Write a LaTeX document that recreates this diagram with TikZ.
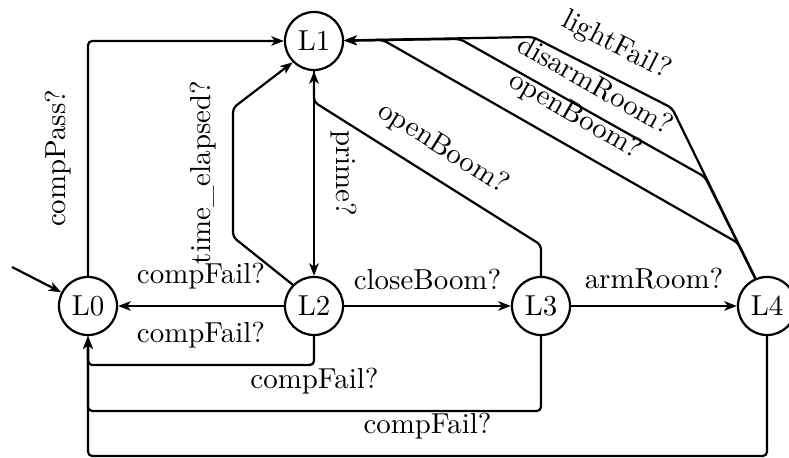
\documentclass[tikz,border=0pt]{standalone}
\usetikzlibrary{arrows.meta}
\begin{document}
\begin{tikzpicture}[x=0.36pt, y=-0.36pt,
  every node/.style={font=\fontsize{10.4pt}{12.5pt}\selectfont},
  loc/.style={circle, draw, line width=0.8pt, minimum size=20.9pt, inner sep=0pt},
  trans/.style={line width=0.8pt, -{Stealth[length=4.5pt,width=3.4pt,inset=1.2pt]}, rounded corners=1.5pt},
  lab/.style={inner sep=5.6pt}
]
\useasboundingbox (0,0) rectangle (789,458);

% locations
\node[loc] (L0) at (88,306) {L0};
\node[loc] (L1) at (314,41) {L1};
\node[loc] (L2) at (314,306) {L2};
\node[loc] (L3) at (541,306) {L3};
\node[loc] (L4) at (767,306) {L4};

% bend points
\coordinate (init) at (12,267);
\coordinate (te1) at (233,237);
\coordinate (te2) at (233,108);
\coordinate (ob1) at (541,245);
\coordinate (ob2) at (314,102);
\coordinate (lf1) at (672,108);
\coordinate (lf2) at (533,37);
\coordinate (dr1) at (705,177);
\coordinate (dr2) at (460,39);
\coordinate (oc1) at (738,243);
\coordinate (oc2) at (383,40);
\coordinate (b2a) at (314,365);
\coordinate (b2b) at (88,365);
\coordinate (b3a) at (541,411);
\coordinate (b3b) at (88,411);
\coordinate (b4a) at (767,456);
\coordinate (b4b) at (88,456);

% initial location
\draw[trans] (init) -- (L0);

% transitions
\draw[trans] (L0) |- node[lab, pos=0.25, rotate=90, anchor=south] {compPass?} (L1);
\draw[trans] (L2.135) -- (te1) -- node[lab, midway, rotate=90, anchor=south] {time\_elapsed?} (te2) -- (L1.225);
\draw[trans] (L1) -- node[lab, midway, rotate=-90, anchor=south] {prime?} (L2);
\draw[trans] (L3.north) -- (ob1) -- node[lab, midway, sloped, above] {openBoom?} (ob2) -- (L1.south);
\draw[trans] (L2) -- node[lab, above] {compFail?} (L0);
\draw[trans] (L2.south) -- (b2a) -- node[lab, above] {compFail?} (b2b) -- (L0.south);
\draw[trans] (L3.south) -- (b3a) -- node[lab, above] {compFail?} (b3b) -- (L0.south);
\draw[trans] (L4.south) -- (b4a) -- node[lab, above] {compFail?} (b4b) -- (L0.south);
\draw[trans] (L2) -- node[lab, above] {closeBoom?} (L3);
\draw[trans] (L3) -- node[lab, above] {armRoom?} (L4);
\draw[trans] (L4.113) -- (lf1) -- node[lab, midway, sloped, above] {lightFail?} (lf2) -- (L1);
\draw[trans] (L4.113) -- (dr1) -- node[lab, midway, sloped, above] {disarmRoom?} (dr2) -- (L1);
\draw[trans] (L4.113) -- (oc1) -- node[lab, midway, sloped, above] {openBoom?} (oc2) -- (L1);
\end{tikzpicture}
\end{document}
